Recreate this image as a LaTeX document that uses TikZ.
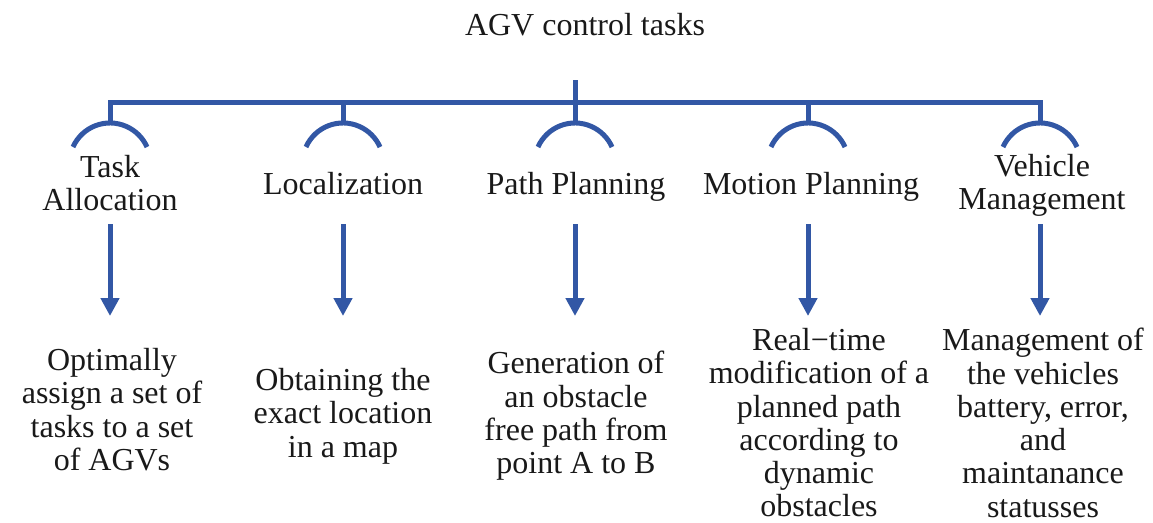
\documentclass[tikz,border=0pt]{standalone}
\usepackage{fontspec}
\setmainfont{Liberation Serif}
\usetikzlibrary{arrows.meta}
\definecolor{agvblue}{RGB}{50,87,165}
\begin{document}
\begin{tikzpicture}[x=1pt,y=-1pt,
  conn/.style={draw=agvblue,line width=5pt},
  arr/.style={conn,-{Triangle[width=18pt,length=18pt]}},
  lbl/.style={align=center,font=\fontsize{32}{33.3}\selectfont,inner sep=0pt,text=black!90}]
\useasboundingbox (0,0) rectangle (1153,522);

% title
\node[lbl,anchor=base] (title) at (585,35) {AGV control tasks};

% coordinates of the tree
\coordinate (top) at (575,80);
\foreach \i/\x in {1/110,2/343,3/575,4/808,5/1040}{
  \coordinate (j\i) at (\x,102);
  \coordinate (s\i) at (\x,123);
  \coordinate (at\i) at (\x,224);
  \coordinate (ab\i) at (\x,316);
}

% bar and stubs
\draw[conn,line join=miter] (s1) -- (j1) -- (j5) -- (s5);
\draw[conn] (top) -- (s3);
\draw[conn] (j2) -- (s2);
\draw[conn] (j4) -- (s4);

% arcs
\foreach \i in {1,...,5}{
  \draw[conn] (s\i) ++(-37,24) arc[start angle=204,end angle=336,radius=40.5];
}

% labels
\node[lbl,anchor=north] (l1) at (110,155) {Task\\Allocation};
\node[lbl,anchor=base] (l2) at (343,194) {Localization};
\node[lbl,anchor=base] (l3) at (576,194) {Path Planning};
\node[lbl,anchor=base] (l4) at (811,194) {Motion Planning};
\node[lbl,anchor=north] (l5) at (1042,154) {Vehicle\\Management};

% arrows
\foreach \i in {1,...,5}{
  \draw[arr] (at\i) -- (ab\i);
}

% descriptions
\node[lbl,anchor=north] (d1) at (112,348) {Optimally\\assign a set of\\tasks to a set\\of AGVs};
\node[lbl,anchor=north] (d2) at (343,368) {Obtaining the\\exact location\\in a map};
\node[lbl,anchor=north] (d3) at (576,351) {Generation of\\an obstacle\\free path from\\point A to B};
\node[lbl,anchor=north] (d4) at (819,328) {Real−time\\modification of a\\planned path\\according to\\dynamic\\obstacles};
\node[lbl,anchor=north] (d5) at (1043,328) {Management of\\the vehicles\\battery, error,\\and\\maintanance\\statusses};
\end{tikzpicture}
\end{document}
